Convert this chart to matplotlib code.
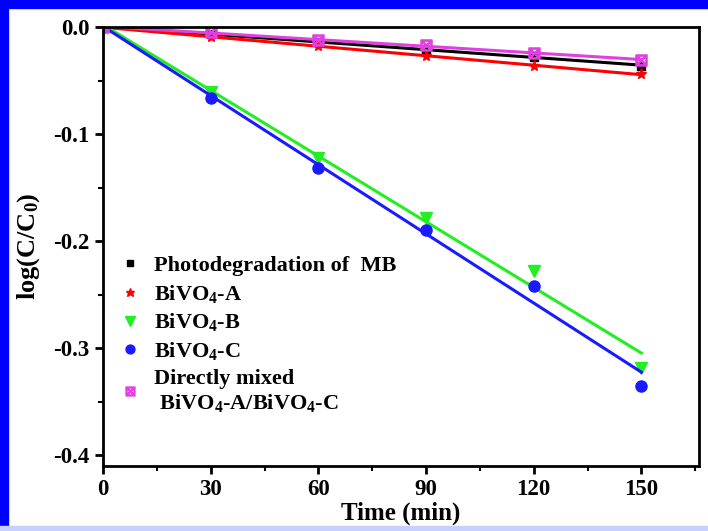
"""
log(C/C0) vs time for BiVO4 samples
"""
import numpy as np
import matplotlib
matplotlib.use("Agg")
import matplotlib.pyplot as plt
from matplotlib.patches import Rectangle

plt.rcParams['font.family'] = 'Liberation Serif'
plt.rcParams['font.weight'] = 'bold'
plt.rcParams['mathtext.fontset'] = 'custom'
plt.rcParams['mathtext.rm'] = 'Liberation Serif:bold'
plt.rcParams['mathtext.it'] = 'Liberation Serif:bold'
plt.rcParams['mathtext.bf'] = 'Liberation Serif:bold'

time = [0, 30, 60, 90, 120, 150]
mb = [0, -0.006, -0.014, -0.021, -0.028, -0.036]
bivo4_a = [0, -0.009, -0.018, -0.027, -0.036, -0.044]
bivo4_b = [0, -0.061, -0.122, -0.178, -0.228, -0.318]
bivo4_c = [0, -0.066, -0.132, -0.190, -0.242, -0.335]
mixed = [0, -0.005, -0.012, -0.017, -0.024, -0.031]

labels = ["Photodegradation of  MB",
          r"BiVO$_4$-A",
          r"BiVO$_4$-B",
          r"BiVO$_4$-C",
          "Directly mixed\n BiVO$_4$-A/BiVO$_4$-C"]
colors = ["black", "red", "#22ee22", "#1a1aff", "#e040e0"]
markers = ["s", "*", "v", "o", r"$\boxtimes$"]
sizes = [6, 8, 9, 8, 8]
series = [mb, bivo4_a, bivo4_b, bivo4_c, mixed]

fig = plt.figure(figsize=(7.08, 5.31), dpi=100)
ax = fig.add_axes([0.1455, 0.1224, 0.8415, 0.8266])

x = np.array(time)
xfit = np.array([0, 150])
for ys, lab, col, mk, ms in zip(series, labels, colors, markers, sizes):
    k, b = np.polyfit(x, ys, 1)
    ax.plot(xfit, k * xfit + b, color=col, lw=2.2)
    ax.plot(x, ys, linestyle="none", marker=mk, color=col, markersize=ms,
            label=lab)

ax.set_xlim(0, 166)
ax.set_ylim(-0.41, 0.0)
ax.set_xticks([0, 30, 60, 90, 120, 150])
ax.set_xticks([15, 45, 75, 105, 135, 165], minor=True)
ax.set_yticks([0.0, -0.1, -0.2, -0.3, -0.4])
ax.set_yticks([-0.05, -0.15, -0.25, -0.35], minor=True)
ax.set_yticklabels(["0.0", "-0.1", "-0.2", "-0.3", "-0.4"])
ax.tick_params(axis="both", which="major", direction="out", length=6,
               width=2, labelsize=16.5)
ax.tick_params(axis="both", which="minor", direction="out", length=3.5,
               width=1.5)
for s in ax.spines.values():
    s.set_linewidth(2)

ax.set_xlabel("Time (min)", fontsize=18, fontweight="bold", labelpad=1)
ax.set_ylabel(r"log(C/C$_0$)", fontsize=19, fontweight="bold", labelpad=8)

ax.legend(loc="upper left", bbox_to_anchor=(0.0, 0.515), frameon=False,
          fontsize=16, handlelength=1.0, handletextpad=0.6,
          labelspacing=0.3, numpoints=1, borderaxespad=0.3, markerscale=0.8)

# blue frame of the original picture
fig.patches.append(Rectangle((0, 0), 8 / 708, 1, transform=fig.transFigure,
                             color="#0000ff", zorder=0))
fig.patches.append(Rectangle((0, 1 - 8 / 531), 1, 8 / 531,
                             transform=fig.transFigure, color="#0000ff",
                             zorder=0))
fig.patches.append(Rectangle((0, 0), 1, 5 / 531, transform=fig.transFigure,
                             color="#c8d0ff", zorder=0))

fig.savefig("out.png", dpi=100)
